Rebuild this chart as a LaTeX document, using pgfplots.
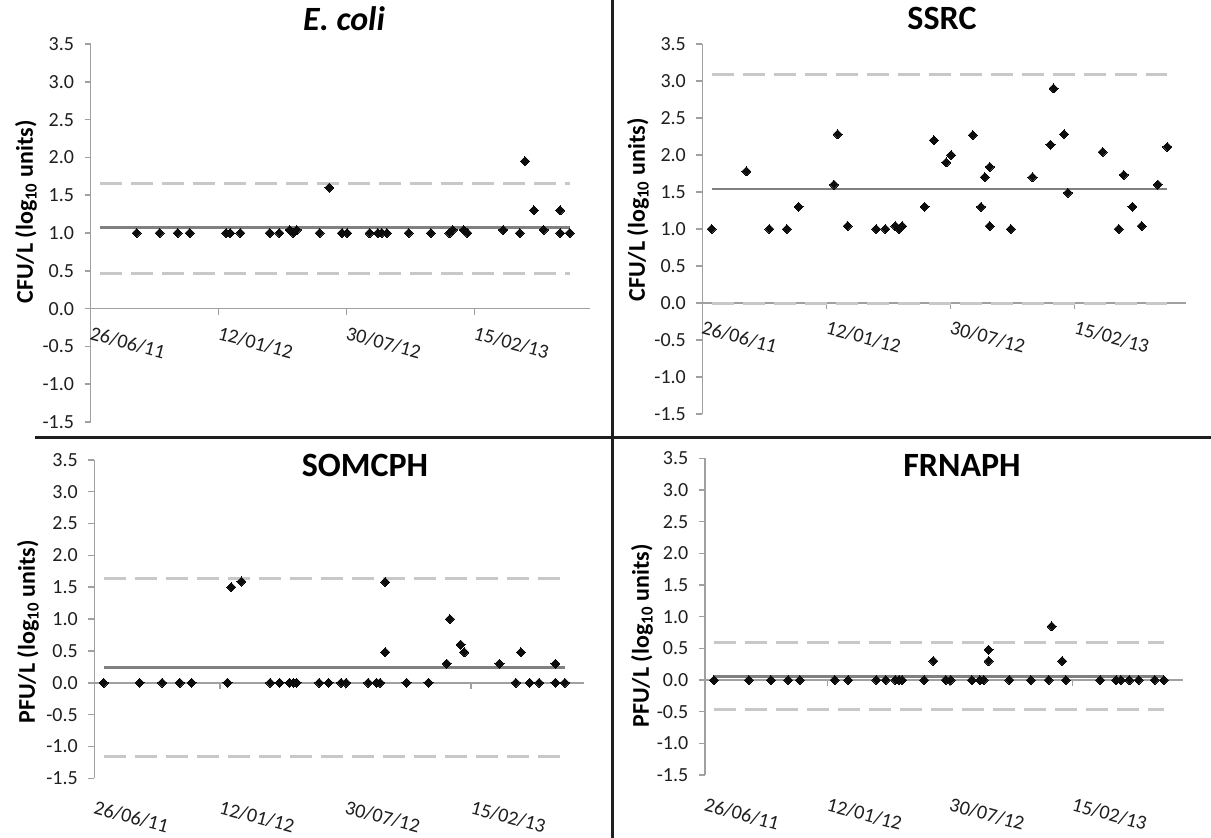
\documentclass[border=0pt]{standalone}
\usepackage{pgfplots}
\pgfplotsset{compat=1.18}
\usepackage{fontspec}
\setmainfont{Carlito}
\definecolor{axgray}{HTML}{A0A0A0}
\definecolor{meangray}{HTML}{808080}
\definecolor{limgray}{HTML}{C8C8C8}
\definecolor{ptblack}{HTML}{0D0D0D}
\definecolor{txt}{HTML}{1F1F1F}
\definecolor{divider}{HTML}{1E1E1E}
\newcommand\ticksfont{\fontsize{20}{20}\selectfont}
\newcommand\titlefont{\fontsize{34}{34}\selectfont}
\newcommand\ylabfont{\fontsize{24}{24}\selectfont}

\pgfplotsset{
  cc/.style={
    scale only axis, anchor=south west,
    xmin=0, xmax=780, ymin=-1.5, ymax=3.5,
    axis x line=middle, axis y line=left,
    axis line style={-, draw=axgray, line width=1.5pt},
    every inner x axis line/.append style={-},
    every outer y axis line/.append style={-},
    hide obscured x ticks=false, hide obscured y ticks=false,
    xtick={0,200,400,600},
    xticklabels={26/06/11,12/01/12,30/07/12,15/02/13},
    ytick={-1.5,-1,-0.5,0,0.5,1,1.5,2,2.5,3,3.5},
    yticklabels={-1.5,-1.0,-0.5,0.0,0.5,1.0,1.5,2.0,2.5,3.0,3.5},
    tick align=outside, major tick length=6pt,
    tick style={draw=axgray, line width=1.5pt},
    tick label style={font=\ticksfont, text=txt},
    yticklabel style={xshift=-7pt},
    clip=false,
  },
  toplab/.style={xticklabel style={yshift=-11pt, xshift=2pt, rotate=-15, anchor=north west, inner sep=0pt}},
  botlab/.style={xticklabel style={yshift=-111pt, xshift=2pt, rotate=-15, anchor=north west, inner sep=0pt}},
  meanl/.style={draw=meangray, line width=2.6pt, no marks},
  liml/.style={draw=limgray, line width=3pt, dash pattern=on 22pt off 9pt, no marks},
  pts/.style={only marks, mark=square*, mark size=3.2pt,
    mark options={rotate=45, fill=ptblack, draw=ptblack, line width=0pt}},
}

\begin{document}
\begin{tikzpicture}
\path[use as bounding box] (0pt,0pt) rectangle (1211pt,-838pt);

% ---------- E. coli ----------
\begin{axis}[cc, toplab, at={(90.6pt,-422pt)}, width=499pt, height=378pt]
\addplot[liml] coordinates {(15,1.66) (749,1.66)};
\addplot[liml] coordinates {(15,0.47) (749,0.47)};
\addplot[meanl] coordinates {(15,1.07) (749,1.07)};
\addplot[pts] coordinates {
(72,1.0) (108,1.0) (136,1.0) (155,1.0) (212,1.0) (218,1.0) (234,1.0)
(280,1.0) (295,1.0) (311,1.04) (317,1.0) (322,1.04) (358,1.0) (373,1.6)
(393,1.0) (401,1.0) (436,1.0) (449,1.0) (455,1.0) (463,1.0) (497,1.0)
(532,1.0) (561,1.0) (566,1.04) (583,1.04) (589,1.0) (645,1.04) (671,1.0)
(679,1.95) (693,1.3) (708,1.04) (734,1.0) (734,1.3) (749,1.0)};
\end{axis}

% ---------- SSRC ----------
\begin{axis}[cc, toplab, at={(702.4pt,-414pt)}, width=484pt, height=370pt]
\addplot[liml] coordinates {(15,3.09) (749,3.09)};
\addplot[liml] coordinates {(15,0.0) (749,0.0)};
\addplot[meanl] coordinates {(15,1.54) (749,1.54)};
\addplot[pts] coordinates {
(15,1.0) (71,1.78) (108,1.0) (136,1.0) (155,1.30) (212,1.60) (218,2.28)
(234,1.04) (280,1.0) (295,1.0) (311,1.04) (317,1.0) (322,1.04) (358,1.30)
(373,2.20) (393,1.90) (401,2.0) (436,2.27) (449,1.30) (455,1.70) (463,1.84)
(463,1.04) (497,1.0) (532,1.70) (561,2.14) (566,2.90) (583,2.28) (589,1.49)
(645,2.04) (671,1.0) (679,1.73) (693,1.30) (708,1.04) (734,1.60) (749,2.11)};
\end{axis}

% ---------- SOMCPH ----------
\begin{axis}[cc, botlab, at={(94.3pt,-778.3pt)}, width=490pt, height=318.5pt]
\addplot[liml] coordinates {(15,1.63) (749,1.63)};
\addplot[liml] coordinates {(15,-1.16) (749,-1.16)};
\addplot[meanl] coordinates {(15,0.24) (749,0.24)};
\addplot[pts] coordinates {
(15,0) (72,0) (108,0) (136,0) (155,0) (212,0) (218,1.50) (234,1.59)
(280,0) (295,0) (311,0) (317,0) (322,0) (358,0) (373,0) (393,0) (401,0)
(436,0) (449,0) (455,0) (463,1.58) (463,0.48) (497,0) (532,0) (561,0.30)
(566,1.0) (583,0.60) (589,0.48) (645,0.30) (671,0) (679,0.48) (693,0)
(708,0) (734,0.30) (734,0) (749,0)};
\end{axis}

% ---------- FRNAPH ----------
\begin{axis}[cc, botlab, at={(704.8pt,-775pt)}, width=478pt, height=316.6pt]
\addplot[liml] coordinates {(15,0.59) (749,0.59)};
\addplot[liml] coordinates {(15,-0.47) (749,-0.47)};
\addplot[meanl] coordinates {(15,0.06) (749,0.06)};
\addplot[pts] coordinates {
(15,0) (72,0) (108,0) (136,0) (155,0) (212,0) (234,0) (280,0) (295,0)
(311,0) (317,0) (322,0) (358,0) (373,0.30) (393,0) (401,0) (436,0) (449,0)
(455,0) (463,0.48) (463,0.30) (497,0) (532,0) (561,0) (566,0.85) (583,0.30)
(589,0) (645,0) (671,0) (679,0) (693,0) (708,0) (734,0) (749,0)};
\end{axis}

% titles and axis titles
\node[font=\titlefont\bfseries\itshape] at (344pt,-19pt) {E. coli};
\node[font=\titlefont\bfseries] at (942pt,-18pt) {SSRC};
\node[font=\titlefont\bfseries] at (365pt,-465pt) {SOMCPH};
\node[font=\titlefont\bfseries] at (962pt,-465pt) {FRNAPH};
\node[rotate=90, font=\ylabfont\bfseries] at (26pt,-212pt) {CFU/L (log\textsubscript{10} units)};
\node[rotate=90, font=\ylabfont\bfseries] at (638pt,-210pt) {CFU/L (log\textsubscript{10} units)};
\node[rotate=90, font=\ylabfont\bfseries] at (28pt,-632pt) {PFU/L (log\textsubscript{10} units)};
\node[rotate=90, font=\ylabfont\bfseries] at (642pt,-636pt) {PFU/L (log\textsubscript{10} units)};

% dividers
\draw[line width=3pt, divider] (612.7pt,0pt) -- (612.7pt,-838pt);
\draw[line width=3pt, divider] (35pt,-437pt) -- (1211pt,-437pt);
\end{tikzpicture}
\end{document}
